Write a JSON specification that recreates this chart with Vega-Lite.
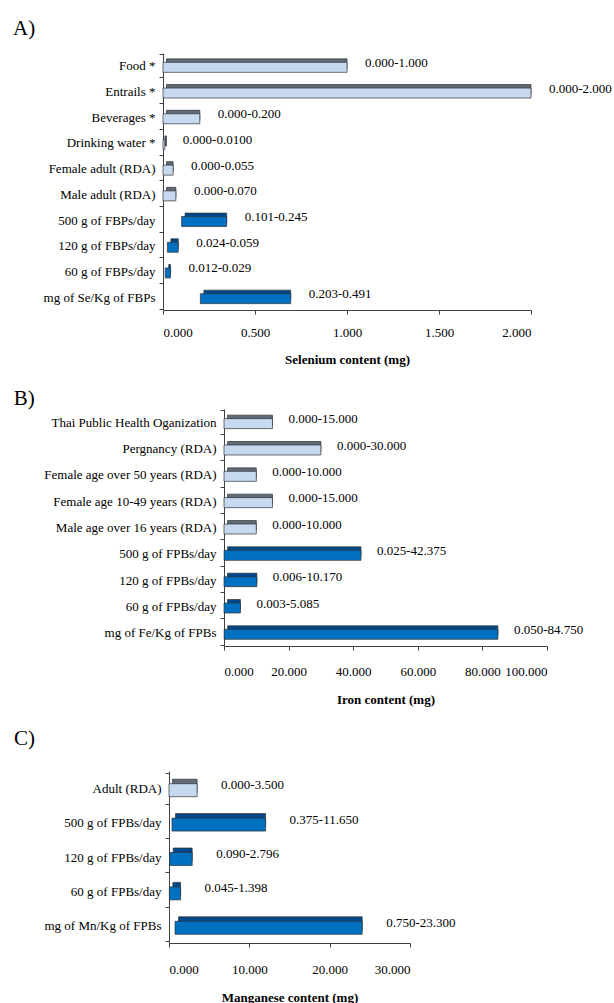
{
  "$schema": "https://vega.github.io/schema/vega-lite/v6.json",
  "padding": {"left": 12, "top": 18, "right": 5, "bottom": 0},
  "background": "white",
  "spacing": 22,
  "config": {
    "view": {"stroke": null},
    "font": "Liberation Serif",
    "title": {"font": "Liberation Serif", "fontSize": 21, "fontWeight": "normal", "anchor": "start", "dx": -30, "color": "black"},
    "axis": {
      "labelFont": "Liberation Serif", "labelFontSize": 13, "labelColor": "black",
      "titleFont": "Liberation Serif", "titleFontSize": 13, "titleFontWeight": "bold", "titleColor": "black",
      "domainColor": "#404040", "tickColor": "#404040", "tickSize": 4, "grid": false
    },
    "axisY": {"tickBand": "extent", "labelPadding": 4, "labelLimit": 400},
    "axisX": {"labelPadding": 12, "titlePadding": 10, "format": ".3f"},
    "text": {"font": "Liberation Serif", "fontSize": 13, "color": "black", "align": "left", "baseline": "middle", "dx": 18, "dy": -3},
    "bar": {"stroke": "#333333", "strokeWidth": 0.7}
  },
  "vconcat": [
    {"spacing": 0, "hconcat": [
    {"width": 1, "height": 1, "data": {"values": []}, "mark": "rule", "encoding": {}},
    {
      "title": {"text": "A)", "offset": 8},
      "width": 368, "height": 257,
      "data": {"values": [
        {"item": "Food *", "start": 0, "end": 1.0, "label": "0.000-1.000", "type": "ref"},
        {"item": "Entrails *", "start": 0, "end": 2.0, "label": "0.000-2.000", "type": "ref"},
        {"item": "Beverages *", "start": 0, "end": 0.2, "label": "0.000-0.200", "type": "ref"},
        {"item": "Drinking water *", "start": 0, "end": 0.01, "label": "0.000-0.0100", "type": "ref"},
        {"item": "Female adult (RDA)", "start": 0, "end": 0.055, "label": "0.000-0.055", "type": "ref"},
        {"item": "Male adult (RDA)", "start": 0, "end": 0.07, "label": "0.000-0.070", "type": "ref"},
        {"item": "500 g of FBPs/day", "start": 0.101, "end": 0.346, "label": "0.101-0.245", "type": "fbp"},
        {"item": "120 g of FBPs/day", "start": 0.024, "end": 0.083, "label": "0.024-0.059", "type": "fbp"},
        {"item": "60 g of FBPs/day", "start": 0.012, "end": 0.041, "label": "0.012-0.029", "type": "fbp"},
        {"item": "mg of Se/Kg of FBPs", "start": 0.203, "end": 0.694, "label": "0.203-0.491", "type": "fbp"}
      ]},
      "encoding": {
        "y": {"field": "item", "type": "nominal", "sort": null, "title": null}
      },
      "layer": [
        {
          "mark": {"type": "bar", "size": 10, "xOffset": 3.5, "yOffset": -2},
          "encoding": {
            "x": {"field": "start", "type": "quantitative", "scale": {"domain": [0, 2]}, "axis": {"values": [0, 0.5, 1, 1.5, 2], "title": "Selenium content (mg)", "titlePadding": 14}},
            "x2": {"field": "end"},
            "color": {"field": "type", "type": "nominal", "scale": {"domain": ["ref", "fbp"], "range": ["#5F6B78", "#00488A"]}, "legend": null}
          }
        },
        {
          "mark": {"type": "bar", "size": 10, "yOffset": 1.5},
          "encoding": {
            "x": {"field": "start", "type": "quantitative"},
            "x2": {"field": "end"},
            "fill": {"field": "type", "type": "nominal", "scale": {"domain": ["ref", "fbp"], "range": ["#C6D9F1", "#0070C0"]}, "legend": null}
          }
        },
        {
          "mark": {"type": "text"},
          "encoding": {
            "x": {"field": "end", "type": "quantitative"},
            "text": {"field": "label"}
          }
        }
      ]
    }]},
    {"spacing": 0, "hconcat": [
    {"width": 1, "height": 1, "data": {"values": []}, "mark": "rule", "encoding": {}},
    {
      "title": {"text": "B)", "offset": -6},
      "width": 323, "height": 237,
      "data": {"values": [
        {"item": "Thai Public Health Oganization", "start": 0, "end": 15, "label": "0.000-15.000", "type": "ref"},
        {"item": "Pergnancy (RDA)", "start": 0, "end": 30, "label": "0.000-30.000", "type": "ref"},
        {"item": "Female age over 50 years (RDA)", "start": 0, "end": 10, "label": "0.000-10.000", "type": "ref"},
        {"item": "Female age 10-49 years (RDA)", "start": 0, "end": 15, "label": "0.000-15.000", "type": "ref"},
        {"item": "Male age over 16 years (RDA)", "start": 0, "end": 10, "label": "0.000-10.000", "type": "ref"},
        {"item": "500 g of FPBs/day", "start": 0.025, "end": 42.4, "label": "0.025-42.375", "type": "fbp"},
        {"item": "120 g of FPBs/day", "start": 0.006, "end": 10.176, "label": "0.006-10.170", "type": "fbp"},
        {"item": "60 g of FPBs/day", "start": 0.003, "end": 5.088, "label": "0.003-5.085", "type": "fbp"},
        {"item": "mg of Fe/Kg of FPBs", "start": 0.05, "end": 84.8, "label": "0.050-84.750", "type": "fbp"}
      ]},
      "encoding": {
        "y": {"field": "item", "type": "nominal", "sort": null, "title": null}
      },
      "layer": [
        {
          "mark": {"type": "bar", "size": 10, "xOffset": 3.5, "yOffset": -2},
          "encoding": {
            "x": {"field": "start", "type": "quantitative", "scale": {"domain": [0, 100]}, "axis": {"values": [0, 20, 40, 60, 80, 100], "title": "Iron content (mg)", "labelPadding": 15, "titlePadding": 15}},
            "x2": {"field": "end"},
            "color": {"field": "type", "type": "nominal", "scale": {"domain": ["ref", "fbp"], "range": ["#5F6B78", "#00488A"]}, "legend": null}
          }
        },
        {
          "mark": {"type": "bar", "size": 10, "yOffset": 1.5},
          "encoding": {
            "x": {"field": "start", "type": "quantitative"},
            "x2": {"field": "end"},
            "fill": {"field": "type", "type": "nominal", "scale": {"domain": ["ref", "fbp"], "range": ["#C6D9F1", "#0070C0"]}, "legend": null}
          }
        },
        {
          "mark": {"type": "text", "dx": 16},
          "encoding": {
            "x": {"field": "end", "type": "quantitative"},
            "text": {"field": "label"}
          }
        }
      ]
    }]},
    {"spacing": 0, "hconcat": [
    {"width": 1, "height": 1, "data": {"values": []}, "mark": "rule", "encoding": {}},
    {
      "title": {"text": "C)", "offset": 16},
      "width": 241, "height": 172,
      "data": {"values": [
        {"item": "Adult (RDA)", "start": 0, "end": 3.5, "label": "0.000-3.500", "type": "ref"},
        {"item": "500 g of FPBs/day", "start": 0.375, "end": 12.025, "label": "0.375-11.650", "type": "fbp"},
        {"item": "120 g of FPBs/day", "start": 0.09, "end": 2.886, "label": "0.090-2.796", "type": "fbp"},
        {"item": "60 g of FPBs/day", "start": 0.045, "end": 1.443, "label": "0.045-1.398", "type": "fbp"},
        {"item": "mg of Mn/Kg of FPBs", "start": 0.75, "end": 24.05, "label": "0.750-23.300", "type": "fbp"}
      ]},
      "encoding": {
        "y": {"field": "item", "type": "nominal", "sort": null, "title": null}
      },
      "layer": [
        {
          "mark": {"type": "bar", "size": 13, "xOffset": 3.5, "yOffset": -2.5},
          "encoding": {
            "x": {"field": "start", "type": "quantitative", "scale": {"domain": [0, 30]}, "axis": {"values": [0, 10, 20, 30], "title": "Manganese content (mg)", "labelPadding": 16, "titlePadding": 15}},
            "x2": {"field": "end"},
            "color": {"field": "type", "type": "nominal", "scale": {"domain": ["ref", "fbp"], "range": ["#5F6B78", "#00488A"]}, "legend": null}
          }
        },
        {
          "mark": {"type": "bar", "size": 13, "yOffset": 2},
          "encoding": {
            "x": {"field": "start", "type": "quantitative"},
            "x2": {"field": "end"},
            "fill": {"field": "type", "type": "nominal", "scale": {"domain": ["ref", "fbp"], "range": ["#C6D9F1", "#0070C0"]}, "legend": null}
          }
        },
        {
          "mark": {"type": "text", "dx": 24},
          "encoding": {
            "x": {"field": "end", "type": "quantitative"},
            "text": {"field": "label"}
          }
        }
      ]
    }]}
  ]
}
